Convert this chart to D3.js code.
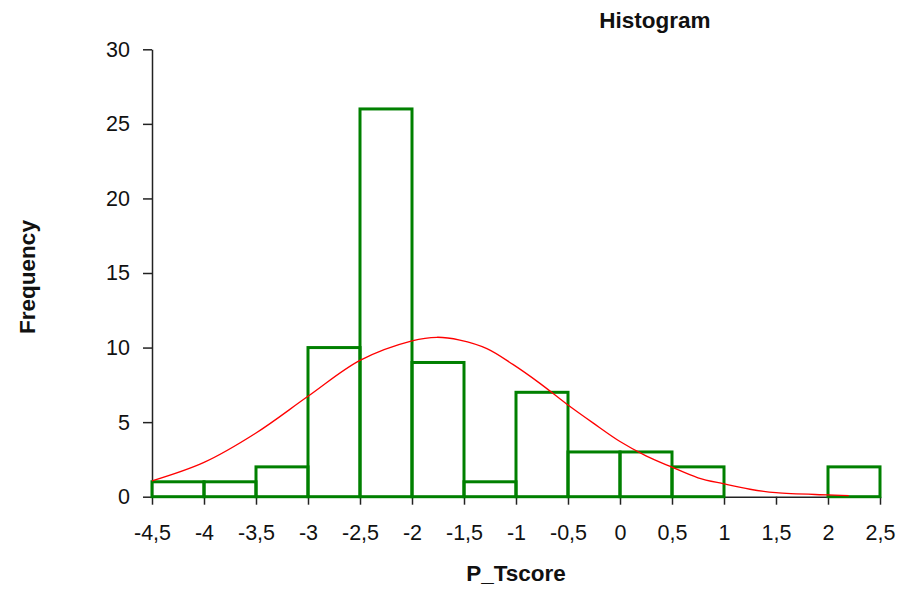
<!DOCTYPE html>
<html>
<head>
    <title>Histogram</title>
    <script src="https://d3js.org/d3.v7.min.js"></script>
    <style>
        body { margin: 0; background: #fff; }
        .tick text { font-family: 'Liberation Sans', Arial, sans-serif; font-size: 21.5px; fill: #111; }
        .axis path, .axis line { stroke: #222; stroke-width: 1.5px; }
        .title, .label { font-family: 'Liberation Sans', Arial, sans-serif; font-weight: bold; font-size: 22.5px; fill: #111; }
    </style>
</head>
<body>
    <svg width="914" height="592"></svg>
    <script>
        // bins (left edge, width 0.5) and counts
        const binStarts = [-4.5, -4, -3.5, -3, -2.5, -2, -1.5, -1, -0.5, 0, 0.5, 1, 1.5, 2];
        const counts    = [1, 1, 2, 10, 26, 9, 1, 7, 3, 3, 2, 0, 0, 2];
        const binWidth = 0.5;

        // fitted normal curve
        const curveX = [-4.5, -4, -3.5, -3, -2.5, -2, -1.76, -1.54, -1.28, -1.03, -0.77, -0.51, -0.26, 0, 0.25, 0.5, 0.75, 1, 1.25, 1.5, 2, 2.2];
        const curveY = [1.06, 2.3, 4.27, 6.73, 9.14, 10.45, 10.69, 10.5, 9.93, 8.87, 7.6, 6.2, 4.95, 3.7, 2.74, 1.98, 1.27, 0.86, 0.5, 0.27, 0.12, 0.07];

        const xTicks = [-4.5, -4, -3.5, -3, -2.5, -2, -1.5, -1, -0.5, 0, 0.5, 1, 1.5, 2, 2.5];
        const yTicks = [0, 5, 10, 15, 20, 25, 30];

        let svg = d3.select("svg");

        let x = d3.scaleLinear().domain([-4.5, 2.5]).range([152, 880]);
        let y = d3.scaleLinear().domain([0, 30]).range([496.7, 49.3]);

        const fmt = d => String(d).replace(".", ",");

        // axes
        svg.append("g")
           .attr("class", "axis")
           .attr("transform", "translate(0,496.7)")
           .call(d3.axisBottom(x).tickValues(xTicks).tickFormat(fmt).tickSize(8).tickSizeOuter(0).tickPadding(20));

        svg.append("g")
           .attr("class", "axis")
           .attr("transform", "translate(152,0)")
           .call(d3.axisLeft(y).tickValues(yTicks).tickSize(9).tickSizeOuter(0).tickPadding(13));

        // histogram bars (outlines)
        let bins = binStarts.map((b, i) => ({x0: b, x1: b + binWidth, n: counts[i]}));
        svg.append("g")
           .selectAll("rect")
           .data(bins)
           .join("rect")
           .attr("x", d => x(d.x0))
           .attr("y", d => y(d.n))
           .attr("width", d => x(d.x1) - x(d.x0))
           .attr("height", d => y(0) - y(d.n))
           .attr("fill", "none")
           .attr("stroke", "#008000")
           .attr("stroke-width", 3);

        // normal curve
        let line = d3.line()
            .x(d => x(d[0]))
            .y(d => y(d[1]))
            .curve(d3.curveCatmullRom);

        svg.append("path")
           .datum(curveX.map((v, i) => [v, curveY[i]]))
           .attr("d", line)
           .attr("fill", "none")
           .attr("stroke", "#ff0000")
           .attr("stroke-width", 1.3);

        // titles
        svg.append("text")
           .attr("class", "title")
           .attr("x", 655)
           .attr("y", 28)
           .attr("text-anchor", "middle")
           .text("Histogram");

        svg.append("text")
           .attr("class", "label")
           .attr("x", 516)
           .attr("y", 581)
           .attr("text-anchor", "middle")
           .text("P_Tscore");

        svg.append("text")
           .attr("class", "label")
           .attr("transform", "translate(35,277) rotate(-90)")
           .attr("text-anchor", "middle")
           .text("Frequency");
    </script>
</body>
</html>
